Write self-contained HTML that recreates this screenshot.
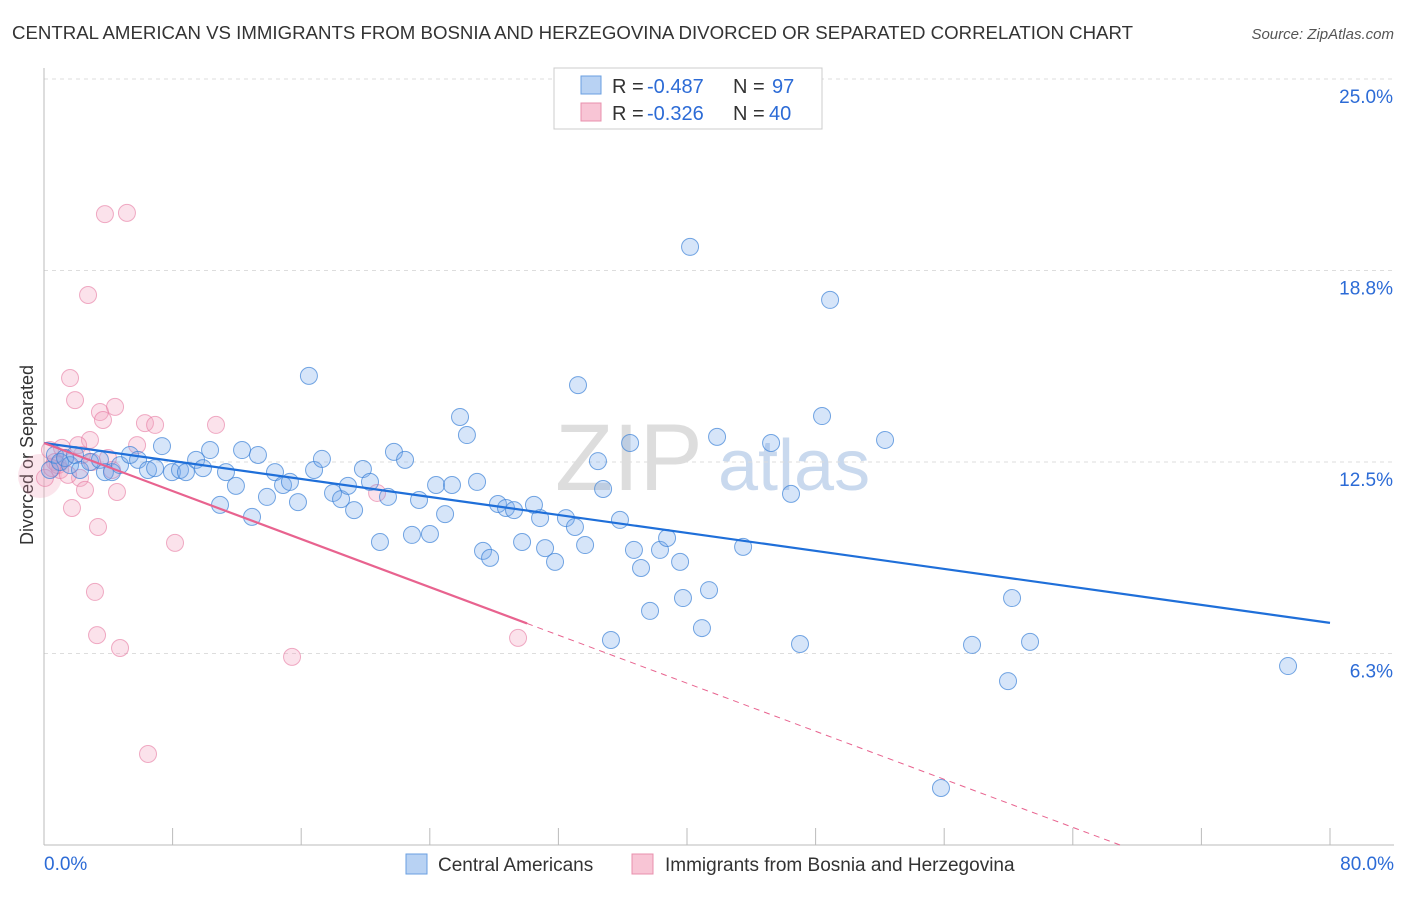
<!DOCTYPE html>
<html><head><meta charset="utf-8"><style>
body{margin:0;background:#fff;font-family:"Liberation Sans",sans-serif}
svg text{font-family:"Liberation Sans",sans-serif}
</style></head><body>
<svg id="chart" width="1406" height="892">
<text x="12" y="39" font-size="18" fill="#333" textLength="1121" lengthAdjust="spacingAndGlyphs">CENTRAL AMERICAN VS IMMIGRANTS FROM BOSNIA AND HERZEGOVINA DIVORCED OR SEPARATED CORRELATION CHART</text>
<text x="1394" y="39" font-size="15" fill="#555" text-anchor="end" font-style="italic">Source: ZipAtlas.com</text>
<text x="33" y="455" font-size="18" fill="#333" text-anchor="middle" transform="rotate(-90 33 455)">Divorced or Separated</text>
<text x="555" y="490" font-size="95" fill="#ddd" font-family="Liberation Serif">ZIP</text>
<text x="718" y="490" font-size="72" fill="#c9d9ee">atlas</text>
<g id="grid"></g><g id="marks"></g>
<g>
<rect x="554" y="68" width="268" height="61" fill="#fff" stroke="#ccc"/>
<rect x="581" y="76" width="20" height="18" fill="#b8d2f3" stroke="#6a9fe0"/>
<rect x="581" y="103" width="20" height="18" fill="#f8c5d5" stroke="#e890ad"/>
<text x="612" y="93" font-size="20" fill="#333">R =</text>
<text x="647" y="93" font-size="20" fill="#2c6bd6">-0.487</text>
<text x="733" y="93" font-size="20" fill="#333">N =</text>
<text x="772" y="93" font-size="20" fill="#2c6bd6">97</text>
<text x="612" y="120" font-size="20" fill="#333">R =</text>
<text x="647" y="120" font-size="20" fill="#2c6bd6">-0.326</text>
<text x="733" y="120" font-size="20" fill="#333">N =</text>
<text x="769" y="120" font-size="20" fill="#2c6bd6">40</text>
</g>
<g>
<rect x="406" y="854" width="21" height="20" fill="#b8d2f3" stroke="#6a9fe0"/>
<text x="438" y="871" font-size="19" fill="#333">Central Americans</text>
<rect x="632" y="854" width="21" height="20" fill="#f8c5d5" stroke="#e890ad"/>
<text x="665" y="871" font-size="19" fill="#333">Immigrants from Bosnia and Herzegovina</text>
</g>
<text x="44" y="870" font-size="19" fill="#2c6bd6">0.0%</text>
<text x="1394" y="870" font-size="19" fill="#2c6bd6" text-anchor="end">80.0%</text>
</svg>
<script>
const blueX=[0.37,0.68,1.0,1.31,1.62,1.93,2.24,2.86,3.48,3.79,4.23,4.73,5.35,5.85,6.47,6.91,7.34,7.96,8.46,8.83,9.46,9.89,10.33,10.95,11.32,11.94,12.32,12.94,13.31,13.87,14.37,14.87,15.30,15.80,16.48,16.80,17.29,17.98,18.48,18.91,19.29,19.84,20.28,20.90,21.40,21.77,22.46,22.89,23.33,24.01,24.39,24.95,25.38,25.88,26.31,26.94,27.31,27.75,28.24,28.74,29.24,29.74,30.48,30.86,31.17,31.79,32.47,33.03,33.22,33.66,34.46,34.78,35.27,35.83,36.46,36.70,37.14,37.70,38.32,38.76,39.57,39.75,40.19,40.93,41.37,41.87,43.49,45.23,46.47,47.03,48.40,48.90,52.32,55.80,57.73,59.97,60.22,61.34,77.39];
const blueY=[12.24,12.73,12.50,12.63,12.40,12.73,12.24,12.50,12.57,12.17,12.17,12.40,12.73,12.57,12.24,12.30,13.02,12.17,12.24,12.17,12.57,12.30,12.89,11.10,12.17,11.72,12.89,10.71,12.73,11.36,12.17,11.75,11.85,11.19,15.31,12.24,12.60,11.49,11.29,11.72,10.93,12.27,11.85,9.89,11.36,12.83,12.57,10.12,11.26,10.15,11.75,10.80,11.75,13.97,13.38,11.85,9.60,9.37,11.13,11.00,10.93,9.89,11.10,10.67,9.69,9.24,10.67,10.38,15.01,9.79,12.53,11.62,6.69,10.61,13.12,9.63,9.04,7.64,9.63,10.02,9.24,8.06,19.52,7.08,8.32,13.32,9.73,13.12,11.46,6.56,14.00,17.79,13.22,1.86,6.53,5.35,8.06,6.63,5.84];
const pinkX=[0.06,0.37,0.68,1.0,1.31,1.62,1.93,2.24,2.55,2.74,2.86,3.17,3.30,3.36,3.48,3.67,3.79,4.23,4.42,4.54,4.73,5.16,5.79,6.28,6.47,6.91,8.15,10.70,15.43,20.72,29.49,1.74,1.12,2.36,3.98,2.99,0.87,1.49,2.12,0.50];
const pinkY=[11.98,12.89,12.50,12.24,12.63,15.24,14.52,11.98,11.59,17.95,13.22,8.26,6.85,10.38,14.13,13.87,20.59,12.24,14.30,11.52,6.43,20.63,13.05,13.77,2.97,13.71,9.86,13.71,6.14,11.49,6.76,11.00,12.96,12.73,12.63,12.50,12.40,12.08,13.05,12.30];
const yTicks=[6.3,12.5,18.8,25.0];
const xTicks=[0,8,16,24,32,40,48,56,64,72,80];
const blueTrend=[13.12,7.25];
const pinkTrend=[13.12,-0.196,30.05];
const NS='http://www.w3.org/2000/svg';
const sx=v=>44+v*(1286/80), sy=v=>845-v*(766/25);
function mk(t,a,p){const e=document.createElementNS(NS,t);for(const k in a)e.setAttribute(k,a[k]);p.appendChild(e);return e;}
const grid=document.getElementById('grid'),marks=document.getElementById('marks');
yTicks.forEach(t=>{
 const v=t===6.3?6.25:t===18.8?18.75:t;
 const l=mk('line',{x1:44,x2:1394,y1:sy(v),y2:sy(v),stroke:'#ddd','stroke-dasharray':'4,4'},grid);
 
 
 const tx=mk('text',{x:1393,y:sy(v)+24,'font-size':19,fill:'#2c6bd6','text-anchor':'end'},grid);
 tx.textContent=t.toFixed(1)+'%';
 
 
});
xTicks.forEach(t=>{
 const l=mk('line',{x1:sx(t),x2:sx(t),y1:828,y2:845,stroke:'#bbb'},grid);
 
 
});
mk('line',{x1:44,x2:44,y1:68,y2:845,stroke:'#bbb'},grid);
mk('line',{x1:44,x2:1394,y1:845,y2:845,stroke:'#bbb'},grid);
const bc=mk('circle',{cx:40,cy:476,r:22,fill:'rgba(240,150,180,0.25)'},marks);


pinkX.forEach((x,i)=>{
 const c=mk('circle',{cx:sx(x),cy:sy(pinkY[i]),r:8.5,fill:'rgba(243,160,190,0.3)',stroke:'rgba(230,120,160,0.6)','stroke-width':1},marks);
 
 
});
blueX.forEach((x,i)=>{
 const c=mk('circle',{cx:sx(x),cy:sy(blueY[i]),r:8.5,fill:'rgba(120,170,235,0.3)',stroke:'rgba(60,130,215,0.7)','stroke-width':1},marks);
 
 
});
const bl=mk('line',{x1:sx(0),y1:sy(blueTrend[0]),x2:sx(80),y2:sy(blueTrend[1]),stroke:'#1f6fd9','stroke-width':2.2},marks);


const pe=pinkTrend[2],pz=-pinkTrend[0]/pinkTrend[1];
const pl=mk('line',{x1:sx(0),y1:sy(pinkTrend[0]),x2:sx(pe),y2:sy(pinkTrend[0]+pinkTrend[1]*pe),stroke:'#e8638f','stroke-width':2.2},marks);


const pd=mk('line',{x1:sx(pe),y1:sy(pinkTrend[0]+pinkTrend[1]*pe),x2:sx(pz),y2:sy(0),stroke:'#e8638f','stroke-width':1,'stroke-dasharray':'6,5'},marks);


</script>
</body></html>
